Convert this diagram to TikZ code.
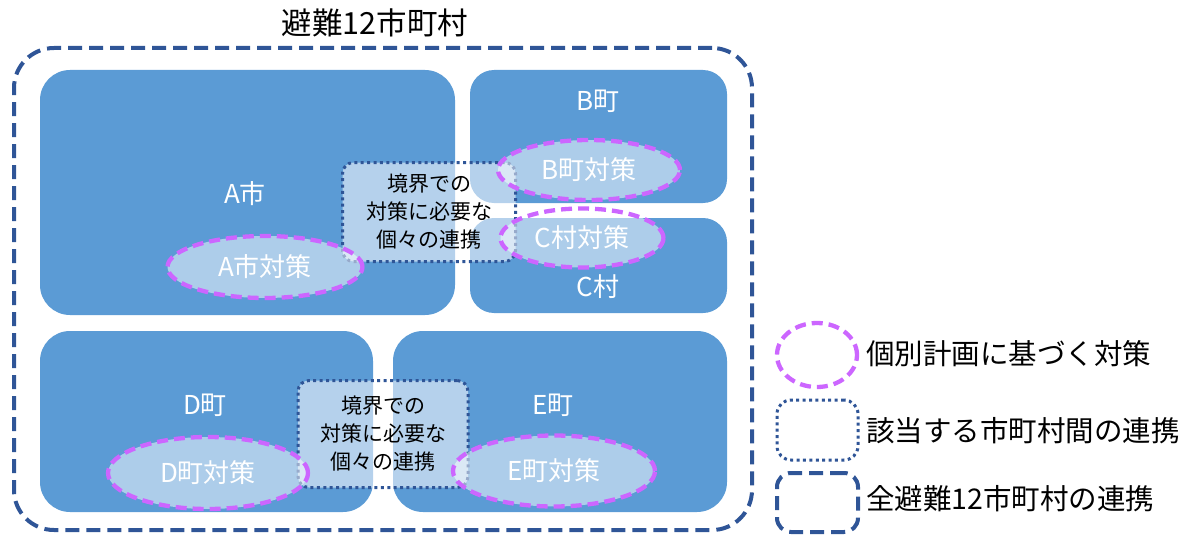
\documentclass[tikz,border=0pt]{standalone}
\usepackage{fontspec}
\newfontfamily\jp{Noto Sans CJK JP}
\usetikzlibrary{shapes.geometric}
\definecolor{regionblue}{RGB}{91,155,213}
\definecolor{navyline}{RGB}{47,85,151}
\definecolor{violetline}{RGB}{204,102,255}
\tikzset{
  region/.style={draw=none, fill=regionblue, rounded corners=30pt, inner sep=0pt},
  regionlabel/.style={text=white, font=\jp\fontsize{26}{30}\selectfont, inner sep=0pt},
  cooperate/.style={draw=navyline, line width=3pt, dash pattern=on 3pt off 3.4pt,
    fill=white, fill opacity=0.55, text opacity=1, rounded corners=11pt, inner sep=0pt,
    align=center, font=\jp\fontsize{21}{28}\selectfont, text=black},
  measure/.style={ellipse, draw=violetline, line width=4.3pt, dash pattern=on 11pt off 6pt,
    fill=white, fill opacity=0.5, text opacity=1, inner sep=0pt,
    text=white, font=\jp\fontsize{26}{30}\selectfont},
  allcoop/.style={draw=navyline, line width=4pt, dash pattern=on 14pt off 7pt, inner sep=0pt},
  legendtext/.style={anchor=west, font=\jp\fontsize{28.5}{32}\selectfont, inner sep=0pt, text=black},
}
\begin{document}
\begin{tikzpicture}[x=1pt,y=-1pt]
\useasboundingbox (0,0) rectangle (1195,535);
% outer frame
\node[allcoop, rounded corners=40pt, minimum width=738, minimum height=482] (all) at (383,289) {};
\node[font=\jp\fontsize{30.5}{34}\selectfont, inner sep=0pt] (title) at (375,23) {避難12市町村};
% regions
\node[region, minimum width=415, minimum height=245] (A) at (247.5,192.5) {};
\node[region, rounded corners=24pt, minimum width=257, minimum height=133] (B) at (598.5,136.5) {};
\node[region, rounded corners=24pt, minimum width=257, minimum height=95] (C) at (598.5,265.5) {};
\node[region, minimum width=333, minimum height=181] (D) at (206.5,421.5) {};
\node[region, minimum width=334, minimum height=181] (E) at (560,421.5) {};
\node[regionlabel] (Alab) at (245,194) {A市};
\node[regionlabel] (Blab) at (598,101) {B町};
\node[regionlabel] (Clab) at (598,287) {C村};
\node[regionlabel] (Dlab) at (205,405) {D町};
\node[regionlabel] (Elab) at (553,405) {E町};
% cooperation boxes
\node[cooperate, minimum width=173, minimum height=99] (coop1) at (429,212) {境界での\\対策に必要な\\個々の連携};
\node[cooperate, minimum width=170, minimum height=107] (coop2) at (383,434) {境界での\\対策に必要な\\個々の連携};
% measures
\node[measure, minimum width=195, minimum height=62] (Am) at (265,267) {A市対策};
\node[measure, minimum width=182, minimum height=60] (Bm) at (589,170) {B町対策};
\node[measure, minimum width=163, minimum height=59] (Cm) at (582,238) {C村対策};
\node[measure, minimum width=200, minimum height=72] (Dm) at (208,473) {D町対策};
\node[measure, minimum width=202, minimum height=71] (Em) at (554,471) {E町対策};
% legend
\node[measure, fill=none, minimum width=80, minimum height=64] (L1) at (817,355) {};
\node[cooperate, fill=none, rounded corners=14pt, minimum width=81, minimum height=60] (L2) at (817.5,430) {};
\node[allcoop, rounded corners=14pt, minimum width=81, minimum height=59] (L3) at (817.5,502.5) {};
\node[legendtext] (L1t) at (866,354) {個別計画に基づく対策};
\node[legendtext] (L2t) at (866,431) {該当する市町村間の連携};
\node[legendtext] (L3t) at (866,499) {全避難12市町村の連携};
\end{tikzpicture}
\end{document}
